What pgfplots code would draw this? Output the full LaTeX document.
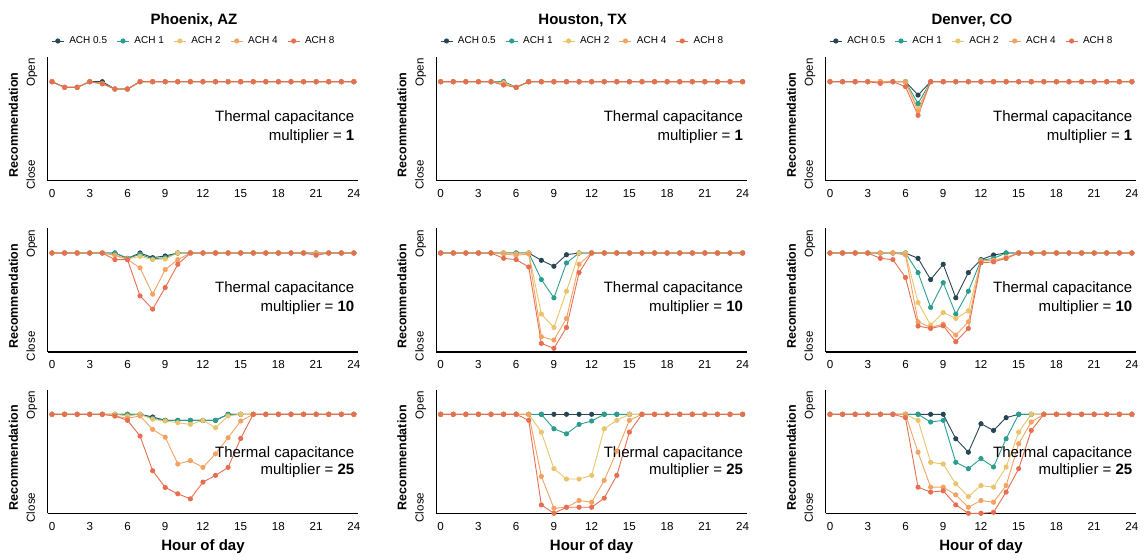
\documentclass[border=0pt]{standalone}
\usepackage{pgfplots}
\usepackage{pgfplotstable}
\pgfplotsset{compat=1.18}
\usepackage{fontspec}
\setmainfont{Liberation Sans}
\definecolor{cA}{HTML}{264653}
\definecolor{cB}{HTML}{2A9D8F}
\definecolor{cC}{HTML}{E9C46A}
\definecolor{cD}{HTML}{F4A261}
\definecolor{cE}{HTML}{E76F51}

% Phoenix, multiplier 1
\pgfplotstableread{
h a b c d e
0 1 1 1 1 1
1 0.943 0.943 0.943 0.943 0.943
2 0.943 0.943 0.943 0.943 0.943
3 1 1 1 1 1
4 1 0.98 0.98 0.98 0.98
5 0.926 0.926 0.926 0.926 0.926
6 0.926 0.926 0.926 0.926 0.926
7 1 1 1 1 1
8 1 1 1 1 1
9 1 1 1 1 1
10 1 1 1 1 1
11 1 1 1 1 1
12 1 1 1 1 1
13 1 1 1 1 1
14 1 1 1 1 1
15 1 1 1 1 1
16 1 1 1 1 1
17 1 1 1 1 1
18 1 1 1 1 1
19 1 1 1 1 1
20 1 1 1 1 1
21 1 1 1 1 1
22 1 1 1 1 1
23 1 1 1 1 1
24 1 1 1 1 1
}\tPA
% Houston, multiplier 1
\pgfplotstableread{
h a b c d e
0 1 1 1 1 1
1 1 1 1 1 1
2 1 1 1 1 1
3 1 1 1 1 1
4 1 1 1 1 1
5 1 1 0.99 0.98 0.966
6 0.943 0.943 0.943 0.943 0.943
7 1 1 1 1 1
8 1 1 1 1 1
9 1 1 1 1 1
10 1 1 1 1 1
11 1 1 1 1 1
12 1 1 1 1 1
13 1 1 1 1 1
14 1 1 1 1 1
15 1 1 1 1 1
16 1 1 1 1 1
17 1 1 1 1 1
18 1 1 1 1 1
19 1 1 1 1 1
20 1 1 1 1 1
21 1 1 1 1 1
22 1 1 1 1 1
23 1 1 1 1 1
24 1 1 1 1 1
}\tHA
% Denver, multiplier 1
\pgfplotstableread{
h a b c d e
0 1 1 1 1 1
1 1 1 1 1 1
2 1 1 1 1 1
3 1 1 1 1 1
4 1 1 1 1 0.983
5 1 1 1 1 1
6 1 1 1 1 0.95
7 0.865 0.78 0.73 0.70 0.66
8 1 1 1 1 1
9 1 1 1 1 1
10 1 1 1 1 1
11 1 1 1 1 1
12 1 1 1 1 1
13 1 1 1 1 1
14 1 1 1 1 1
15 1 1 1 1 1
16 1 1 1 1 1
17 1 1 1 1 1
18 1 1 1 1 1
19 1 1 1 1 1
20 1 1 1 1 1
21 1 1 1 1 1
22 1 1 1 1 1
23 1 1 1 1 1
24 1 1 1 1 1
}\tDA
% Phoenix, multiplier 10
\pgfplotstableread{
h a b c d e
0 1 1 1 1 1
1 1 1 1 1 1
2 1 1 1 1 1
3 1 1 1 1 1
4 1 1 1 1 1
5 1 1 0.977 0.977 0.933
6 0.946 0.946 0.94 0.933 0.933
7 1 0.987 0.966 0.85 0.567
8 0.953 0.94 0.933 0.584 0.433
9 0.97 0.953 0.94 0.832 0.651
10 1 1 1 0.933 0.886
11 1 1 1 1 1
12 1 1 1 1 1
13 1 1 1 1 1
14 1 1 1 1 1
15 1 1 1 1 1
16 1 1 1 1 1
17 1 1 1 1 1
18 1 1 1 1 1
19 1 1 1 1 1
20 1 1 1 1 1
21 1 1 1 1 0.977
22 1 1 1 1 1
23 1 1 1 1 1
24 1 1 1 1 1
}\tPB
% Houston, multiplier 10
\pgfplotstableread{
h a b c d e
0 1 1 1 1 1
1 1 1 1 1 1
2 1 1 1 1 1
3 1 1 1 1 1
4 1 1 1 1 1
5 1 1 1 0.99 0.946
6 1 1 0.99 0.977 0.933
7 1 1 1 0.99 0.859
8 0.926 0.732 0.383 0.154 0.087
9 0.866 0.547 0.248 0.121 0.037
10 0.983 0.9 0.614 0.339 0.248
11 1 1 1 0.886 0.802
12 1 1 1 1 1
13 1 1 1 1 1
14 1 1 1 1 1
15 1 1 1 1 1
16 1 1 1 1 1
17 1 1 1 1 1
18 1 1 1 1 1
19 1 1 1 1 1
20 1 1 1 1 1
21 1 1 1 1 1
22 1 1 1 1 1
23 1 1 1 1 1
24 1 1 1 1 1
}\tHB
% Denver, multiplier 10
\pgfplotstableread{
h a b c d e
0 1 1 1 1 1
1 1 1 1 1 1
2 1 1 1 1 1
3 1 1 1 1 1
4 1 1 1 1 0.946
5 1 1 1 1 0.933
6 1 1 1 0.98 0.752
7 0.946 0.802 0.5 0.305 0.262
8 0.732 0.45 0.272 0.248 0.238
9 0.886 0.70 0.399 0.282 0.265
10 0.547 0.383 0.339 0.171 0.104
11 0.802 0.614 0.416 0.305 0.238
12 0.933 0.926 0.92 0.92 0.9
13 0.98 0.946 0.926 0.926 0.91
14 1 1 0.96 0.946 0.946
15 1 1 1 1 1
16 1 1 1 1 1
17 1 1 1 1 1
18 1 1 1 1 1
19 1 1 1 1 1
20 1 1 1 1 1
21 1 1 1 1 1
22 1 1 1 1 1
23 1 1 1 1 1
24 1 1 1 1 1
}\tDB
% Phoenix, multiplier 25
\pgfplotstableread{
h a b c d e
0 1 1 1 1 1
1 1 1 1 1 1
2 1 1 1 1 1
3 1 1 1 1 1
4 1 1 1 1 1
5 1 1 1 0.983 0.983
6 1 1 0.983 0.96 0.939
7 1 1 1 0.983 0.78
8 0.973 0.96 0.95 0.847 0.43
9 0.939 0.939 0.932 0.769 0.261
10 0.939 0.939 0.915 0.498 0.197
11 0.939 0.939 0.898 0.532 0.146
12 0.939 0.939 0.939 0.464 0.315
13 0.939 0.939 0.864 0.6 0.383
14 1 1 0.983 0.763 0.464
15 1 1 1 0.932 0.756
16 1 1 1 1 1
17 1 1 1 1 1
18 1 1 1 1 1
19 1 1 1 1 1
20 1 1 1 1 1
21 1 1 1 1 1
22 1 1 1 1 1
23 1 1 1 1 1
24 1 1 1 1 1
}\tPC
% Houston, multiplier 25
\pgfplotstableread{
h a b c d e
0 1 1 1 1 1
1 1 1 1 1 1
2 1 1 1 1 1
3 1 1 1 1 1
4 1 1 1 1 1
5 1 1 1 1 1
6 1 1 1 1 1
7 1 1 1 1 0.939
8 1 1 0.82 0.373 0.085
9 1 0.854 0.451 0.051 0
10 1 0.803 0.346 0.061 0.061
11 1 0.898 0.346 0.129 0.061
12 1 0.932 0.383 0.112 0.061
13 1 1 0.854 0.332 0.153
14 1 1 0.939 0.627 0.383
15 1 1 1 0.939 0.82
16 1 1 1 1 1
17 1 1 1 1 1
18 1 1 1 1 1
19 1 1 1 1 1
20 1 1 1 1 1
21 1 1 1 1 1
22 1 1 1 1 1
23 1 1 1 1 1
24 1 1 1 1 1
}\tHC
% Denver, multiplier 25
\pgfplotstableread{
h a b c d e
0 1 1 1 1 1
1 1 1 1 1 1
2 1 1 1 1 1
3 1 1 1 1 1
4 1 1 1 1 1
5 1 1 1 1 1
6 1 1 1 1 0.966
7 1 1 0.939 0.617 0.264
8 1 0.922 0.515 0.264 0.214
9 1 0.939 0.498 0.264 0.227
10 0.753 0.515 0.298 0.186 0.085
11 0.617 0.451 0.169 0.061 0
12 0.905 0.553 0.281 0.129 0
13 0.837 0.468 0.264 0.112 0.01
14 0.966 0.753 0.468 0.281 0.214
15 1 1 0.82 0.702 0.451
16 1 1 1 0.922 0.837
17 1 1 1 1 1
18 1 1 1 1 1
19 1 1 1 1 1
20 1 1 1 1 1
21 1 1 1 1 1
22 1 1 1 1 1
23 1 1 1 1 1
24 1 1 1 1 1
}\tDC

\pgfplotsset{
  panel/.style={
    scale only axis, width=310.7pt, height=123.75pt,
    xmin=-0.35, xmax=24.35, ymin=0, ymax=1.25,
    axis x line=bottom, axis y line=left,
    axis line style={-, line width=1.1pt, black},
    xtick={0,3,...,24}, ytick={0.058,1.093}, yticklabels={Close,Open},
    tick style={draw=none},
    clip=false,
    /pgf/number format/assume math mode=true,
    tick label style={font=\fontsize{11.6}{13}\selectfont, text=black},
    xticklabel style={anchor=base, yshift=-14.6pt},
    yticklabel style={rotate=90, anchor=base},
    yticklabel shift=10.6pt,
    ylabel={Recommendation},
    every axis y label/.style={at={(axis description cs:-0.095,0.45)}, rotate=90, anchor=south, inner sep=0pt, font=\bfseries\fontsize{12.5}{15}\selectfont},
    every axis x label/.style={at={(axis description cs:0.5,0)}, anchor=base, yshift=-36.7pt, font=\bfseries\fontsize{15}{18}\selectfont},
    every axis title/.style={at={(axis description cs:0.471,1)}, anchor=base, yshift=32pt, font=\bfseries\fontsize{15}{18}\selectfont},
    legend style={draw=none, fill=none, at={(axis description cs:0.471,1.129)}, anchor=center,
      legend columns=5, font=\fontsize{10}{12}\selectfont, inner sep=0pt,
      /tikz/every odd column/.append style={column sep=3pt},
      /tikz/every even column/.append style={column sep=7.5pt}},
    legend image code/.code={\draw[mark repeat=2,mark phase=2,#1] plot coordinates {(0pt,0pt) (6pt,0pt) (12pt,0pt)};},
  },
  sA/.style={cA, line width=0.9pt, mark=*, mark size=2.1pt, mark options={solid, fill=cA}},
  sB/.style={cB, line width=0.9pt, mark=*, mark size=2.1pt, mark options={solid, fill=cB}},
  sC/.style={cC, line width=0.9pt, mark=*, mark size=2.1pt, mark options={solid, fill=cC}},
  sD/.style={cD, line width=0.9pt, mark=*, mark size=2.1pt, mark options={solid, fill=cD}},
  sE/.style={cE, line width=0.9pt, mark=*, mark size=2.1pt, mark options={solid, fill=cE}},
}

\newcommand{\series}[1]{%
  \addplot[sA] table[x=h,y=a] {#1};
  \addplot[sB] table[x=h,y=b] {#1};
  \addplot[sC] table[x=h,y=c] {#1};
  \addplot[sD] table[x=h,y=d] {#1};
  \addplot[sE] table[x=h,y=e] {#1};
}
\newcommand{\note}[3]{%
  \node[anchor=base east, font=\fontsize{15}{18}\selectfont, inner sep=0pt] at (axis cs:24.05,#2) {Thermal capacitance};
  \node[anchor=base east, font=\fontsize{15}{18}\selectfont, inner sep=0pt] at (axis cs:24.05,#3) {multiplier = \textbf{#1}};
}

\begin{document}
\begin{tikzpicture}
\useasboundingbox (0pt,0pt) rectangle (1144pt,558pt);
% Row 1
\begin{axis}[panel, at={(47.6pt,377.3pt)}, anchor=south west, title={Phoenix, AZ},
  legend entries={ACH 0.5,ACH 1,ACH 2,ACH 4,ACH 8}]
\series{\tPA}
\note{1}{0.6}{0.41}
\end{axis}
\begin{axis}[panel, at={(436.3pt,377.3pt)}, anchor=south west, title={Houston, TX},
  legend entries={ACH 0.5,ACH 1,ACH 2,ACH 4,ACH 8}]
\series{\tHA}
\note{1}{0.6}{0.41}
\end{axis}
\begin{axis}[panel, at={(825.6pt,377.3pt)}, anchor=south west, title={Denver, CO},
  legend entries={ACH 0.5,ACH 1,ACH 2,ACH 4,ACH 8}]
\series{\tDA}
\note{1}{0.6}{0.41}
\end{axis}
% Row 2
\begin{axis}[panel, at={(47.6pt,206pt)}, anchor=south west]
\series{\tPB}
\note{10}{0.6}{0.41}
\end{axis}
\begin{axis}[panel, at={(436.3pt,206pt)}, anchor=south west]
\series{\tHB}
\note{10}{0.6}{0.41}
\end{axis}
\begin{axis}[panel, at={(825.6pt,206pt)}, anchor=south west]
\series{\tDB}
\note{10}{0.6}{0.41}
\end{axis}
% Row 3
\begin{axis}[panel, at={(47.6pt,44.7pt)}, anchor=south west, xlabel={Hour of day}]
\series{\tPC}
\note{25}{0.566}{0.387}
\end{axis}
\begin{axis}[panel, at={(436.3pt,44.7pt)}, anchor=south west, xlabel={Hour of day}]
\series{\tHC}
\note{25}{0.566}{0.387}
\end{axis}
\begin{axis}[panel, at={(825.6pt,44.7pt)}, anchor=south west, xlabel={Hour of day}]
\series{\tDC}
\note{25}{0.566}{0.387}
\end{axis}
\end{tikzpicture}
\end{document}
